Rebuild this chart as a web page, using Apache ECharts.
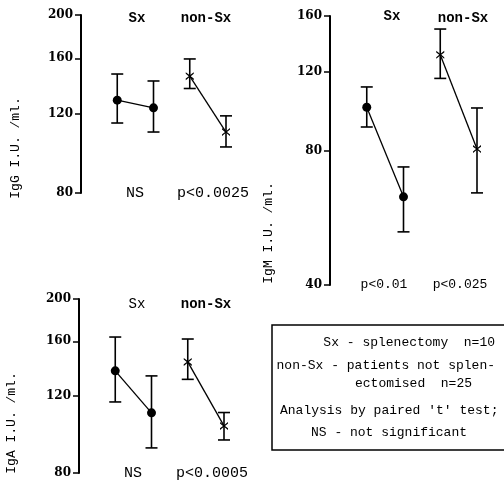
<!DOCTYPE html>
<html><head><meta charset="utf-8">
<script src="https://cdn.jsdelivr.net/npm/echarts@6/dist/echarts.min.js"></script>
<style>html,body{margin:0;padding:0;background:#fff}#c{width:504px;height:485px}</style>
</head><body><div id="c"></div>
<script>
// ---- data ----
const xSlots = ['', 'Sx 1', 'Sx 2', 'non-Sx 1', 'non-Sx 2'];
const sxSlots = ['Sx 1', 'Sx 2'];
const nonSxSlots = ['non-Sx 1', 'non-Sx 2'];

const iggSxMean = [129, 124];
const iggSxLow = [114.7, 109.5];
const iggSxHigh = [147.6, 142.4];
const iggNonSxMean = [146, 109.5];
const iggNonSxLow = [137, 101.4];
const iggNonSxHigh = [159.5, 119];

const igmSxMean = [100, 63];
const igmSxLow = [90.3, 52.6];
const igmSxHigh = [111, 73.5];
const igmNonSxMean = [131, 80.6];
const igmNonSxLow = [116, 64.3];
const igmNonSxHigh = [149.6, 99.6];

const igaSxMean = [137, 109.8];
const igaSxLow = [116.3, 91.3];
const igaSxHigh = [163.7, 133.4];
const igaNonSxMean = [143.6, 102.5];
const igaNonSxLow = [131, 95.2];
const igaNonSxHigh = [162, 110];

const iggTicks = [80, 120, 160, 200];
const igmTicks = [40, 80, 120, 160];
const igaTicks = [80, 120, 160, 200];

const iggNames = ['Sx', 'non-Sx', 'NS', 'p<0.0025', 'IgG I.U. /ml.'];
const igmNames = ['Sx', 'non-Sx', 'p<0.01', 'p<0.025', 'IgM I.U. /ml.'];
const igaNames = ['Sx', 'non-Sx', 'NS', 'p<0.0005', 'IgA I.U. /ml.'];

const legendLines = ['Sx - splenectomy  n=10', 'non-Sx - patients not splen-', 'ectomised  n=25', "Analysis by paired 't' test;", 'NS - not significant'];

// ---- build ----
const INK = '#000';
const AXFONT = 'DejaVu Serif';
const MONO = 'Liberation Mono';
const crossSym = 'path://M0,0 L4,4 L8,0 L8,2 L5,5 L8,8 L8,10 L4,6 L0,10 L0,8 L3,5 L0,2Z';

function renderErr(params, api) {
  const x = api.value(0);
  const lo = api.coord([x, api.value(1)]);
  const hi = api.coord([x, api.value(2)]);
  const w = 6;
  const st = { stroke: INK, lineWidth: 1.6 };
  return { type: 'group', children: [
    { type: 'line', shape: { x1: lo[0], y1: lo[1], x2: hi[0], y2: hi[1] }, style: st },
    { type: 'line', shape: { x1: lo[0] - w, y1: lo[1], x2: lo[0] + w, y2: lo[1] }, style: st },
    { type: 'line', shape: { x1: hi[0] - w, y1: hi[1], x2: hi[0] + w, y2: hi[1] }, style: st }
  ]};
}

const grids = [], xAxes = [], yAxes = [], series = [];
function panel(idx, box, ticks, sxM, sxL, sxH, nM, nL, nH) {
  grids.push({ left: box[0], top: box[1], width: box[2], height: box[3] });
  xAxes.push({ gridIndex: idx, type: 'category', data: xSlots, boundaryGap: false, show: false });
  yAxes.push({
    gridIndex: idx, type: 'log', min: ticks[0], max: ticks[ticks.length - 1],
    axisLine: { show: true, lineStyle: { color: INK, width: 2 } },
    axisTick: { show: true, inside: false, length: 6, lineStyle: { color: INK, width: 1.5 }, customValues: ticks },
    axisLabel: { customValues: ticks, margin: 8, color: INK, fontFamily: AXFONT, fontWeight: 'bold', fontSize: 12 },
    splitLine: { show: false }, minorTick: { show: false }
  });
  series.push({ type: 'custom', xAxisIndex: idx, yAxisIndex: idx, renderItem: renderErr,
    data: sxSlots.map((s, i) => [s, sxL[i], sxH[i]]), encode: { x: 0, y: [1, 2] }, z: 2 });
  series.push({ type: 'custom', xAxisIndex: idx, yAxisIndex: idx, renderItem: renderErr,
    data: nonSxSlots.map((s, i) => [s, nL[i], nH[i]]), encode: { x: 0, y: [1, 2] }, z: 2 });
  series.push({ type: 'line', xAxisIndex: idx, yAxisIndex: idx, z: 3,
    data: sxSlots.map((s, i) => [s, sxM[i]]), symbol: 'circle', symbolSize: 9,
    itemStyle: { color: INK }, lineStyle: { color: INK, width: 1.3 } });
  series.push({ type: 'line', xAxisIndex: idx, yAxisIndex: idx, z: 3,
    data: nonSxSlots.map((s, i) => [s, nM[i]]), symbol: crossSym, symbolSize: 8,
    itemStyle: { color: INK }, lineStyle: { color: INK, width: 1.3 } });
}
panel(0, [81, 15, 145, 178], iggTicks, iggSxMean, iggSxLow, iggSxHigh, iggNonSxMean, iggNonSxLow, iggNonSxHigh);
panel(1, [330, 16, 147, 269], igmTicks, igmSxMean, igmSxLow, igmSxHigh, igmNonSxMean, igmNonSxLow, igmNonSxHigh);
panel(2, [79, 299, 145, 174], igaTicks, igaSxMean, igaSxLow, igaSxHigh, igaNonSxMean, igaNonSxLow, igaNonSxHigh);

function f(size, bold) { return (bold ? 'bold ' : '') + size + 'px "' + MONO + '"'; }
function txt(s, x, y, font, extra) {
  const o = { type: 'text', x: x, y: y, style: Object.assign({
    text: s, fill: INK, font: font, textAlign: 'center', textVerticalAlign: 'middle'
  }, (extra && extra.style) || {}) };
  if (extra && extra.rotation) o.rotation = extra.rotation;
  return o;
}
const V = { rotation: Math.PI / 2 };
const L = { style: { textAlign: 'left' } };
const R = { style: { textAlign: 'right' } };
const graphics = [
  txt(iggNames[0], 137, 18, f(14, true)),
  txt(iggNames[1], 206, 18, f(14, true)),
  txt(iggNames[2], 135, 193, f(15)),
  txt(iggNames[3], 213, 193, f(15)),
  txt(iggNames[4], 16, 148, f(13), V),
  txt(igmNames[0], 392, 16, f(14, true)),
  txt(igmNames[1], 463, 18, f(14, true)),
  txt(igmNames[2], 384, 285, f(13)),
  txt(igmNames[3], 460, 285, f(13)),
  txt(igmNames[4], 269, 233, f(13), V),
  txt(igaNames[0], 137, 304, f(14)),
  txt(igaNames[1], 206, 304, f(14, true)),
  txt(igaNames[2], 133, 473, f(15)),
  txt(igaNames[3], 212, 473, f(15)),
  txt(igaNames[4], 12, 423, f(13), V),
  { type: 'rect', shape: { x: 272, y: 325, width: 240, height: 125 }, style: { fill: 'none', stroke: INK, lineWidth: 1.5 } },
  txt(legendLines[0], 495, 343, f(13), R),
  txt(legendLines[1], 495, 366, f(13), R),
  txt(legendLines[2], 355, 384, f(13), L),
  txt(legendLines[3], 280, 411, f(13), L),
  txt(legendLines[4], 389, 433, f(13))
];

const chart = echarts.init(document.getElementById('c'), null, { renderer: 'canvas' });
chart.setOption({
  animation: false,
  backgroundColor: '#fff',
  grid: grids, xAxis: xAxes, yAxis: yAxes, series: series,
  graphic: graphics
});
</script></body></html>
